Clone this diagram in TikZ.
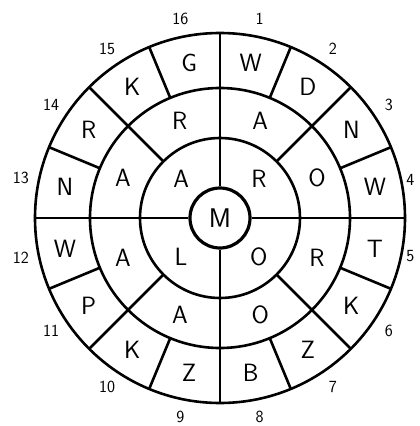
\documentclass[tikz,border=0pt]{standalone}

\begin{document}
\begin{tikzpicture}[x=1pt,y=1pt]
    \pgfmathsetmacro{\rout}{185}
    \pgfmathsetmacro{\rmid}{130}
    \pgfmathsetmacro{\rin}{80}
    \pgfmathsetmacro{\rtxt}{158}
    \pgfmathsetmacro{\rnum}{203}
    \tikzset{ring/.style={line width=2.6pt},
        letter/.style={font=\sffamily\fontsize{25}{25}\selectfont},
        number/.style={font=\sffamily\fontsize{17}{17}\selectfont},
        core/.style={draw,circle,line width=3.2pt,minimum size=60pt,inner sep=0pt,font=\sffamily\fontsize{27}{27}\selectfont}}
    \useasboundingbox (-220,-208) rectangle (200,218);
    \draw[ring] (0,0) circle (\rout);
    \draw[ring] (0,0) circle (\rmid);
    \draw[ring] (0,0) circle (\rin);
    \node[core] (M) at (0,0) {M};
    \draw[ring] (M) -- (90:\rout);
    \draw[ring] (M) -- (0:\rout);
    \draw[ring] (M) -- (-90:\rout);
    \draw[ring] (M) -- (180:\rout);
    \draw[ring] (45:\rin) -- (45:\rout);
    \draw[ring] (-45:\rin) -- (-45:\rout);
    \draw[ring] (-135:\rin) -- (-135:\rout);
    \draw[ring] (135:\rin) -- (135:\rout);
    \draw[ring] (67.5:\rmid) -- (67.5:\rout);
    \draw[ring] (22.5:\rmid) -- (22.5:\rout);
    \draw[ring] (-22.5:\rmid) -- (-22.5:\rout);
    \draw[ring] (-67.5:\rmid) -- (-67.5:\rout);
    \draw[ring] (-112.5:\rmid) -- (-112.5:\rout);
    \draw[ring] (-157.5:\rmid) -- (-157.5:\rout);
    \draw[ring] (157.5:\rmid) -- (157.5:\rout);
    \draw[ring] (112.5:\rmid) -- (112.5:\rout);
    % inner ring
    \node[letter] (in1) at (45:55) {R};
    \node[letter] (in2) at (-45:55) {O};
    \node[letter] (in3) at (-135:55) {L};
    \node[letter] (in4) at (135:55) {A};
    % middle ring
    \node[letter] (mid1) at (67.5:105) {A};
    \node[letter] (mid2) at (22.5:105) {O};
    \node[letter] (mid3) at (-22.5:105) {R};
    \node[letter] (mid4) at (-67.5:105) {O};
    \node[letter] (mid5) at (-112.5:105) {A};
    \node[letter] (mid6) at (-157.5:105) {A};
    \node[letter] (mid7) at (157.5:105) {A};
    \node[letter] (mid8) at (112.5:105) {R};
    % outer ring
    \node[letter] (out1) at (78.75:\rtxt) {W};
    \node[letter] (out2) at (56.25:\rtxt) {D};
    \node[letter] (out3) at (33.75:\rtxt) {N};
    \node[letter] (out4) at (11.25:\rtxt) {W};
    \node[letter] (out5) at (-11.25:\rtxt) {T};
    \node[letter] (out6) at (-33.75:\rtxt) {K};
    \node[letter] (out7) at (-56.25:\rtxt) {Z};
    \node[letter] (out8) at (-78.75:\rtxt) {B};
    \node[letter] (out9) at (-101.25:\rtxt) {Z};
    \node[letter] (out10) at (-123.75:\rtxt) {K};
    \node[letter] (out11) at (-146.25:\rtxt) {P};
    \node[letter] (out12) at (-168.75:\rtxt) {W};
    \node[letter] (out13) at (168.75:\rtxt) {N};
    \node[letter] (out14) at (146.25:\rtxt) {R};
    \node[letter] (out15) at (123.75:\rtxt) {K};
    \node[letter] (out16) at (101.25:\rtxt) {G};
    % numbers
    \node[number] (num1) at (78.75:\rnum) {1};
    \node[number] (num2) at (56.25:\rnum) {2};
    \node[number] (num3) at (33.75:\rnum) {3};
    \node[number] (num4) at (11.25:194) {4};
    \node[number] (num5) at (-11.25:194) {5};
    \node[number] (num6) at (-33.75:\rnum) {6};
    \node[number] (num7) at (-56.25:\rnum) {7};
    \node[number] (num8) at (-78.75:\rnum) {8};
    \node[number] (num9) at (-101.25:\rnum) {9};
    \node[number] (num10) at (-123.75:\rnum) {10};
    \node[number] (num11) at (-146.25:\rnum) {11};
    \node[number] (num12) at (-168.75:\rnum) {12};
    \node[number] (num13) at (168.75:\rnum) {13};
    \node[number] (num14) at (146.25:\rnum) {14};
    \node[number] (num15) at (123.75:\rnum) {15};
    \node[number] (num16) at (101.25:\rnum) {16};
\end{tikzpicture}
\end{document}
